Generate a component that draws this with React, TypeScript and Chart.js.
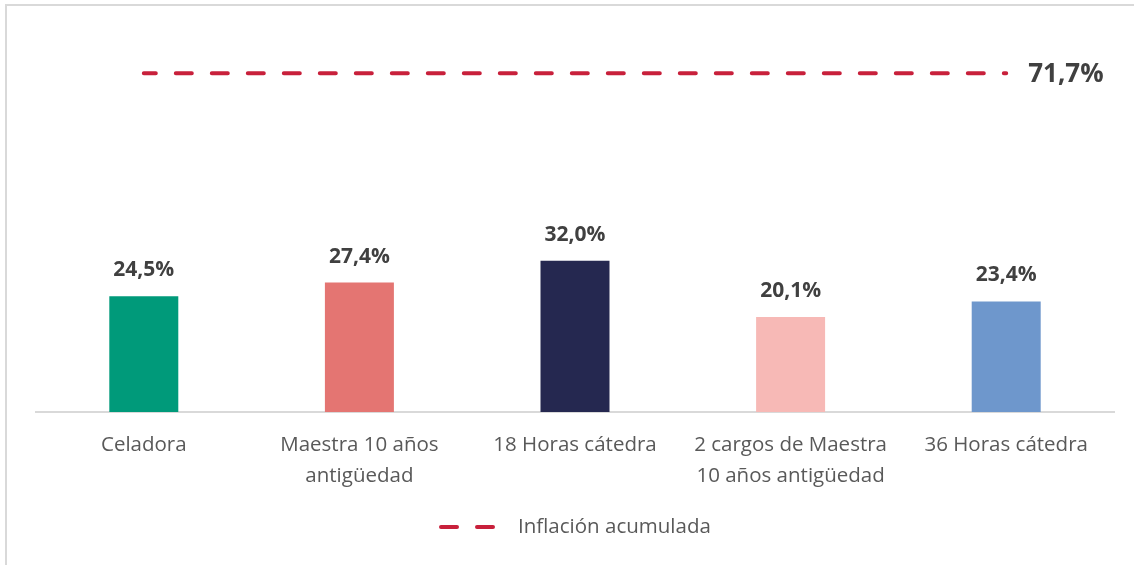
import React, { useEffect, useRef } from "react";
import { Chart, registerables } from "chart.js";

Chart.register(...registerables);

const categories: string[][] = [
  ["Celadora"],
  ["Maestra 10 años", "antigüedad"],
  ["18 Horas cátedra"],
  ["2 cargos de Maestra", "10 años antigüedad"],
  ["36 Horas cátedra"],
];
const salaryValues: number[] = [24.5, 27.4, 32.0, 20.1, 23.4];
const barColors: string[] = ["#009A7A", "#E47572", "#252850", "#F7B9B6", "#6E97CC"];
const inflationValue = 71.7;
const inflationSeries: number[] = [71.7, 71.7, 71.7, 71.7, 71.7];
const legendLabel = "Inflación acumulada";

const FONT = "'Open Sans', Lato, sans-serif";
const RED = "#C8203B";

const fmt = (v: number) => v.toFixed(1).replace(".", ",") + "%";

const labelsPlugin = {
  id: "customLabels",
  afterDatasetsDraw(chart: any) {
    const ctx = chart.ctx;
    ctx.save();
    // bar labels
    const barMeta = chart.getDatasetMeta(0);
    ctx.font = `bold 21px ${FONT}`;
    ctx.fillStyle = "#404040";
    ctx.textAlign = "center";
    ctx.textBaseline = "middle";
    barMeta.data.forEach((el: any, i: number) => {
      ctx.fillText(fmt(salaryValues[i]), el.x, el.y - 26);
    });
    // line label
    const lineMeta = chart.getDatasetMeta(1);
    const last = lineMeta.data[lineMeta.data.length - 1];
    ctx.font = `bold 26px ${FONT}`;
    ctx.textAlign = "left";
    ctx.fillText(fmt(inflationValue), last.x + 22, last.y + 1);
    // legend
    const ly = 527;
    ctx.font = `20.5px ${FONT}`;
    const x0 = 439;
    ctx.strokeStyle = RED;
    ctx.lineWidth = 4;
    ctx.lineCap = "round";
    ctx.setLineDash([16, 20]);
    ctx.beginPath();
    ctx.moveTo(x0 + 2, ly);
    ctx.lineTo(x0 + 55, ly);
    ctx.stroke();
    ctx.setLineDash([]);
    ctx.fillStyle = "#595959";
    ctx.textAlign = "left";
    ctx.fillText(legendLabel, 518, ly);
    ctx.restore();
  },
};

export default function App() {
  const ref = useRef<HTMLCanvasElement | null>(null);
  useEffect(() => {
    if (!ref.current) return;
    const chart = new Chart(ref.current, {
      type: "bar",
      data: {
        labels: categories as any,
        datasets: [
          {
            type: "bar",
            label: "Salario",
            data: salaryValues,
            backgroundColor: barColors,
            categoryPercentage: 1,
            barPercentage: 0.32,
            order: 2,
          },
          {
            type: "line",
            label: legendLabel,
            data: inflationSeries,
            borderColor: RED,
            borderWidth: 4,
            borderDash: [16, 20],
            borderDashOffset: 4,
            borderCapStyle: "round",
            pointRadius: 0,
            fill: false,
            order: 1,
          } as any,
        ],
      },
      options: {
        animation: false,
        responsive: true,
        maintainAspectRatio: false,
        layout: { padding: { top: 34, left: 36, right: 20, bottom: 0 } },
        plugins: { legend: { display: false }, tooltip: { enabled: false } },
        scales: {
          x: {
            grid: { display: false },
            border: { display: true, color: "#D9D9D9", width: 2 },
            ticks: {
              color: "#595959",
              font: { family: FONT, size: 20.5, lineHeight: 1.512 },
              padding: 10,
              maxRotation: 0,
              autoSkip: false,
            },
            afterFit: (s: any) => {
              s.height = 153;
            },
          },
          y: {
            display: false,
            min: 0,
            max: 80,
          },
        },
      },
      plugins: [labelsPlugin],
    });
    return () => chart.destroy();
  }, []);

  return (
    <div
      style={{
        position: "fixed",
        left: 0,
        top: 0,
        width: 1134,
        height: 565,
        overflow: "hidden",
        background: "#fff",
      }}
    >
      <div
        style={{
          position: "absolute",
          left: 5,
          top: 4,
          width: 1160,
          height: 600,
          border: "2px solid #D9D9D9",
          boxSizing: "border-box",
        }}
      />
      <div style={{ position: "absolute", left: 0, top: 0, width: 1134, height: 565 }}>
        <canvas ref={ref} />
      </div>
    </div>
  );
}
